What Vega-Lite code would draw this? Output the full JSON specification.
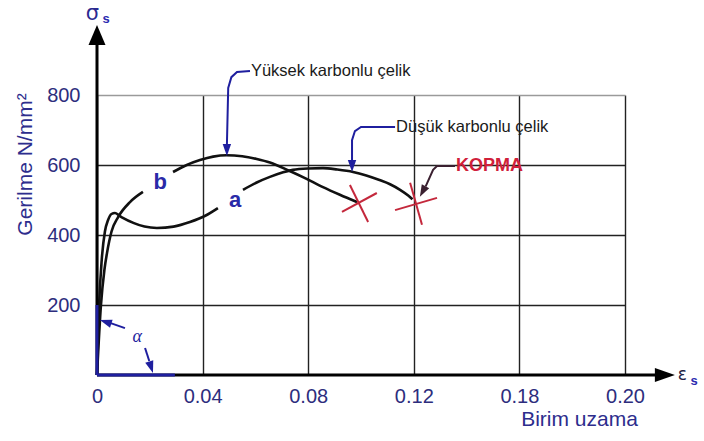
{
  "$schema": "https://vega.github.io/schema/vega-lite/v6.json",
  "width": 528,
  "height": 280,
  "autosize": "none",
  "padding": {"left": 97, "top": 95, "right": 79, "bottom": 66},
  "background": "white",
  "config": {"view": {"stroke": null}, "font": "Liberation Sans"},
  "datasets": {
    "curves": [
      {"seg": "a1", "o": 1, "x": 0, "y": 0},
      {"seg": "a1", "o": 2, "x": 0.0008, "y": 200},
      {"seg": "a1", "o": 3, "x": 0.0018, "y": 330},
      {"seg": "a1", "o": 4, "x": 0.003, "y": 410},
      {"seg": "a1", "o": 5, "x": 0.0042, "y": 443},
      {"seg": "a1", "o": 6, "x": 0.0055, "y": 460},
      {"seg": "a1", "o": 7, "x": 0.0068, "y": 463},
      {"seg": "a1", "o": 8, "x": 0.0085, "y": 455},
      {"seg": "a1", "o": 9, "x": 0.0098, "y": 449},
      {"seg": "a1", "o": 10, "x": 0.014, "y": 434},
      {"seg": "a1", "o": 11, "x": 0.018, "y": 424},
      {"seg": "a1", "o": 12, "x": 0.0227, "y": 420},
      {"seg": "a1", "o": 13, "x": 0.029, "y": 424},
      {"seg": "a1", "o": 14, "x": 0.0352, "y": 437},
      {"seg": "a1", "o": 15, "x": 0.041, "y": 455},
      {"seg": "a1", "o": 16, "x": 0.0458, "y": 477},
      {"seg": "a2", "o": 1, "x": 0.0553, "y": 529},
      {"seg": "a2", "o": 2, "x": 0.0605, "y": 550},
      {"seg": "a2", "o": 3, "x": 0.0655, "y": 566},
      {"seg": "a2", "o": 4, "x": 0.0705, "y": 579},
      {"seg": "a2", "o": 5, "x": 0.0742, "y": 586},
      {"seg": "a2", "o": 6, "x": 0.08, "y": 590},
      {"seg": "a2", "o": 7, "x": 0.0856, "y": 591},
      {"seg": "a2", "o": 8, "x": 0.091, "y": 587},
      {"seg": "a2", "o": 9, "x": 0.097, "y": 580},
      {"seg": "a2", "o": 10, "x": 0.102, "y": 570},
      {"seg": "a2", "o": 11, "x": 0.107, "y": 557},
      {"seg": "a2", "o": 12, "x": 0.111, "y": 545},
      {"seg": "a2", "o": 13, "x": 0.1148, "y": 529},
      {"seg": "a2", "o": 14, "x": 0.118, "y": 512},
      {"seg": "a2", "o": 15, "x": 0.1195, "y": 502},
      {"seg": "b1", "o": 1, "x": 0, "y": 0},
      {"seg": "b1", "o": 2, "x": 0.0015, "y": 200},
      {"seg": "b1", "o": 3, "x": 0.0028, "y": 300},
      {"seg": "b1", "o": 4, "x": 0.0038, "y": 349},
      {"seg": "b1", "o": 5, "x": 0.0055, "y": 410},
      {"seg": "b1", "o": 6, "x": 0.008, "y": 451},
      {"seg": "b1", "o": 7, "x": 0.0125, "y": 494},
      {"seg": "b1", "o": 8, "x": 0.0174, "y": 523},
      {"seg": "b2", "o": 1, "x": 0.0288, "y": 580},
      {"seg": "b2", "o": 2, "x": 0.034, "y": 600},
      {"seg": "b2", "o": 3, "x": 0.039, "y": 614},
      {"seg": "b2", "o": 4, "x": 0.044, "y": 624},
      {"seg": "b2", "o": 5, "x": 0.049, "y": 628},
      {"seg": "b2", "o": 6, "x": 0.055, "y": 625},
      {"seg": "b2", "o": 7, "x": 0.0605, "y": 617},
      {"seg": "b2", "o": 8, "x": 0.0655, "y": 607},
      {"seg": "b2", "o": 9, "x": 0.073, "y": 583},
      {"seg": "b2", "o": 10, "x": 0.079, "y": 562},
      {"seg": "b2", "o": 11, "x": 0.0856, "y": 537},
      {"seg": "b2", "o": 12, "x": 0.092, "y": 515},
      {"seg": "b2", "o": 13, "x": 0.0985, "y": 494}
    ],
    "bluepaths": [
      {"p": "yuk", "o": 1, "x": 0.05795, "y": 868.6},
      {"p": "yuk", "o": 2, "x": 0.05303, "y": 865.7},
      {"p": "yuk", "o": 3, "x": 0.0509, "y": 851},
      {"p": "yuk", "o": 4, "x": 0.0497, "y": 820},
      {"p": "yuk", "o": 5, "x": 0.0492, "y": 655},
      {"p": "dus", "o": 1, "x": 0.1129, "y": 708.6},
      {"p": "dus", "o": 2, "x": 0.1, "y": 708.6},
      {"p": "dus", "o": 3, "x": 0.0977, "y": 697},
      {"p": "dus", "o": 4, "x": 0.0966, "y": 671},
      {"p": "dus", "o": 5, "x": 0.0966, "y": 610},
      {"p": "al1", "o": 1, "x": 0.0106, "y": 134},
      {"p": "al1", "o": 2, "x": 0.0049, "y": 149},
      {"p": "al2", "o": 1, "x": 0.0182, "y": 77},
      {"p": "al2", "o": 2, "x": 0.0198, "y": 40}
    ],
    "kopmapath": [
      {"o": 1, "x": 0.1356, "y": 597},
      {"o": 2, "x": 0.1288, "y": 597},
      {"o": 3, "x": 0.1273, "y": 586},
      {"o": 4, "x": 0.1245, "y": 539}
    ],
    "crosses": [
      {"x": 0.0928, "y": 466, "x2": 0.106, "y2": 520},
      {"x": 0.0958, "y": 543, "x2": 0.1027, "y2": 437},
      {"x": 0.1129, "y": 471, "x2": 0.1288, "y2": 506},
      {"x": 0.1186, "y": 549, "x2": 0.1231, "y2": 429}
    ],
    "axislines": [
      {"x": 0, "y": 0, "x2": 0.2114, "y2": 0},
      {"x": 0, "y": 0, "x2": 0, "y2": 943}
    ],
    "alphalines": [
      {"x": 0, "y": 0, "x2": 0, "y2": 200},
      {"x": 0, "y": 0, "x2": 0.0295, "y2": 0}
    ]
  },
  "encoding": {
    "x": {
      "field": "x", "type": "quantitative",
      "scale": {"domain": [0, 0.2], "nice": false, "zero": false},
      "axis": {
        "values": [0, 0.04, 0.08, 0.12, 0.16, 0.2],
        "labelExpr": "datum.value === 0 ? '0' : (datum.value > 0.15 && datum.value < 0.17 ? '0.18' : format(datum.value, '.2f'))",
        "domain": false, "ticks": false, "grid": true,
        "gridColor": "#222222", "gridWidth": 1.4,
        "labelFont": "Liberation Sans", "labelFontSize": 20, "labelColor": "#2d2d7d",
        "labelPadding": 11, "labelFlush": false, "labelOverlap": false,
        "title": "Birim uzama", "titleFont": "Liberation Sans", "titleFontSize": 21,
        "titleFontWeight": "normal", "titleColor": "#2d2d8d",
        "titleX": 482, "titleY": 44, "titleAlign": "center", "titleBaseline": "middle"
      }
    },
    "y": {
      "field": "y", "type": "quantitative",
      "scale": {"domain": [0, 800], "nice": false},
      "axis": {
        "values": [200, 400, 600, 800],
        "domain": false, "ticks": false, "grid": true,
        "gridColor": {"condition": {"test": "datum.value === 800", "value": "#9a9a9a"}, "value": "#222222"},
        "gridWidth": 1.4,
        "labelFont": "Liberation Sans", "labelFontSize": 20, "labelColor": "#2d2d7d",
        "labelPadding": 17,
        "title": "Gerilme N/mm²", "titleFont": "Liberation Sans", "titleFontSize": 21,
        "titleFontWeight": "normal", "titleColor": "#2d2d8d",
        "titleX": -72, "titleY": 69, "titleAngle": -90, "titleAlign": "center", "titleBaseline": "middle"
      }
    }
  },
  "layer": [
    {
      "data": {"name": "curves"},
      "mark": {"type": "line", "color": "#111111", "strokeWidth": 2.6, "interpolate": "monotone"},
      "encoding": {"detail": {"field": "seg"}, "order": {"field": "o", "type": "quantitative"}}
    },
    {
      "data": {"name": "axislines"},
      "mark": {"type": "rule", "color": "#000000", "strokeWidth": 3},
      "encoding": {"x2": {"field": "x2"}, "y2": {"field": "y2"}}
    },
    {
      "data": {"name": "alphalines"},
      "mark": {"type": "rule", "color": "#1f1f9f", "strokeWidth": 3},
      "encoding": {"x2": {"field": "x2"}, "y2": {"field": "y2"}}
    },
    {
      "data": {"name": "bluepaths"},
      "mark": {"type": "line", "color": "#1f1f9f", "strokeWidth": 2},
      "encoding": {"detail": {"field": "p"}, "order": {"field": "o", "type": "quantitative"}}
    },
    {
      "data": {"name": "kopmapath"},
      "mark": {"type": "line", "color": "#3a2030", "strokeWidth": 2},
      "encoding": {"order": {"field": "o", "type": "quantitative"}}
    },
    {
      "data": {"name": "crosses"},
      "mark": {"type": "rule", "color": "#c4283c", "strokeWidth": 2},
      "encoding": {"x2": {"field": "x2"}, "y2": {"field": "y2"}}
    },
    {
      "data": {"values": [{"x": 0.0492, "y": 626}, {"x": 0.0966, "y": 580}]},
      "mark": {"type": "point", "shape": "M0,0L-0.7,-2L0.7,-2Z", "size": 144, "filled": true, "color": "#1f1f9f", "opacity": 1}
    },
    {
      "data": {"values": [{"x": 0.0011, "y": 157}]},
      "mark": {"type": "point", "shape": "M0,0L-0.7,-2L0.7,-2Z", "size": 144, "filled": true, "color": "#1f1f9f", "opacity": 1, "angle": 108}
    },
    {
      "data": {"values": [{"x": 0.0212, "y": 6}]},
      "mark": {"type": "point", "shape": "M0,0L-0.7,-2L0.7,-2Z", "size": 144, "filled": true, "color": "#1f1f9f", "opacity": 1, "angle": -18}
    },
    {
      "data": {"values": [{"x": 0.1223, "y": 509}]},
      "mark": {"type": "point", "shape": "M0,0L-0.7,-2L0.7,-2Z", "size": 144, "filled": true, "color": "#3a2030", "opacity": 1, "angle": 28}
    },
    {
      "data": {"values": [{"x": 0, "y": 1000}]},
      "mark": {"type": "point", "shape": "M0,0L-0.85,2L0.85,2Z", "size": 400, "filled": true, "color": "#000000", "opacity": 1}
    },
    {
      "data": {"values": [{"x": 0.2189, "y": 0}]},
      "mark": {"type": "point", "shape": "M0,0L-2,-0.7L-2,0.7Z", "size": 400, "filled": true, "color": "#000000", "opacity": 1}
    },
    {
      "data": {"values": [
        {"x": 0.0583, "y": 868.6, "label": "Yüksek karbonlu çelik"},
        {"x": 0.1133, "y": 708.6, "label": "Düşük karbonlu çelik"}
      ]},
      "mark": {"type": "text", "align": "left", "baseline": "middle", "fontSize": 16.5, "color": "#1a1a1a", "font": "Liberation Sans"},
      "encoding": {"text": {"field": "label"}}
    },
    {
      "data": {"values": [{"x": 0.136, "y": 597, "label": "KOPMA"}]},
      "mark": {"type": "text", "align": "left", "baseline": "middle", "fontSize": 18, "fontWeight": "bold", "color": "#d0203a", "font": "Liberation Sans"},
      "encoding": {"text": {"field": "label"}}
    },
    {
      "data": {"values": [{"x": 0.0239, "y": 551, "label": "b"}, {"x": 0.0523, "y": 500, "label": "a"}]},
      "mark": {"type": "text", "align": "center", "baseline": "middle", "fontSize": 22, "fontWeight": "bold", "color": "#2a2aa8", "font": "Liberation Sans"},
      "encoding": {"text": {"field": "label"}}
    },
    {
      "data": {"values": [{"x": 0.0152, "y": 109, "label": "α"}]},
      "mark": {"type": "text", "align": "center", "baseline": "middle", "fontSize": 18, "fontStyle": "italic", "color": "#1f1f9f", "font": "Liberation Serif"},
      "encoding": {"text": {"field": "label"}}
    },
    {
      "data": {"values": [{"x": -0.0017, "y": 1014, "label": "σ"}]},
      "mark": {"type": "text", "align": "center", "baseline": "alphabetic", "fontSize": 21, "color": "#2a2a90", "font": "DejaVu Sans"},
      "encoding": {"text": {"field": "label"}}
    },
    {
      "data": {"values": [{"x": 0.0021, "y": 1006, "label": "s"}, {"x": 0.2248, "y": -28.6, "label": "s"}]},
      "mark": {"type": "text", "align": "left", "baseline": "alphabetic", "fontSize": 13, "fontWeight": "bold", "color": "#2a2ab0", "font": "Liberation Sans"},
      "encoding": {"text": {"field": "label"}}
    },
    {
      "data": {"values": [{"x": 0.2200, "y": -14.3, "label": "ε"}]},
      "mark": {"type": "text", "align": "left", "baseline": "alphabetic", "fontSize": 17, "color": "#222244", "font": "DejaVu Sans"},
      "encoding": {"text": {"field": "label"}}
    }
  ]
}
